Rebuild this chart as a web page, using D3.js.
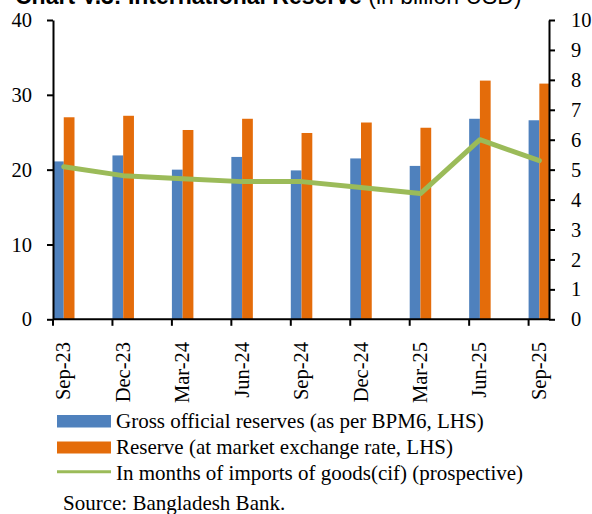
<!DOCTYPE html>
<html>
<head>
<meta charset="utf-8">
<script src="https://cdn.jsdelivr.net/npm/d3@7"></script>
<style>
  html, body { margin: 0; padding: 0; background: #fff; }
  svg { display: block; }
</style>
</head>
<body>
<svg id="chart" width="592" height="514"></svg>
<script>
// Quarter-end categories
const quarters = ["Sep-23", "Dec-23", "Mar-24", "Jun-24", "Sep-24", "Dec-24", "Mar-25", "Jun-25", "Sep-25"];
// Gross official reserves, BPM6 (billion USD, LHS)
const grossReserves = [21.1, 21.9, 20.0, 21.7, 19.9, 21.5, 20.5, 26.8, 26.6];
// Reserve at market exchange rate (billion USD, LHS)
const marketReserves = [27.0, 27.2, 25.3, 26.8, 24.9, 26.3, 25.6, 31.9, 31.5];
// Import cover in months (RHS)
const importMonths = [5.1, 4.8, 4.7, 4.6, 4.6, 4.4, 4.2, 6.0, 5.3];
// Axis ticks
const leftTicks = [0, 10, 20, 30, 40];
const rightTicks = [0, 1, 2, 3, 4, 5, 6, 7, 8, 9, 10];
const seriesNames = [
  "Gross official reserves (as per BPM6, LHS)",
  "Reserve (at market exchange rate, LHS)",
  "In months of imports of goods(cif) (prospective)"
];
const colors = ["#4F81BD", "#E46C0A", "#9BBB59"];

const svg = d3.select("#chart");
const serif = '"Liberation Serif", "Times New Roman", serif';
const sans = '"Liberation Sans", Arial, sans-serif';
const tickFont = 20.5, legendFont = 21;

const plotLeft = 53, plotRight = 549, plotTop = 20, plotBottom = 319.3;
const step = 59.45;

const x = d3.scaleBand().domain(quarters).range([plotLeft, plotLeft + step * quarters.length]).paddingInner(0).paddingOuter(0);
const sub = d3.scaleBand().domain([0, 1]).range([0, 21.5]).padding(0);
const yL = d3.scaleLinear().domain([0, 40]).range([plotBottom, plotTop]);
const yR = d3.scaleLinear().domain([0, 10]).range([plotBottom, plotTop]);

// Title (runs off the top edge)
const title = svg.append("text").attr("x", 15).attr("y", 4)
  .attr("font-family", sans).attr("font-size", 23).attr("fill", "#000");
title.append("tspan").attr("font-weight", "bold").text("Chart V.3: International Reserve ");
title.append("tspan").text("(in billion USD)");

// Bars
const barGroups = svg.append("g").selectAll("g").data(quarters).join("g");
barGroups.append("rect")
  .attr("x", d => x(d) + sub(0))
  .attr("width", sub.bandwidth())
  .attr("y", (d, i) => yL(grossReserves[i]))
  .attr("height", (d, i) => yL(0) - yL(grossReserves[i]))
  .attr("fill", colors[0]);
barGroups.append("rect")
  .attr("x", d => x(d) + sub(1))
  .attr("width", sub.bandwidth())
  .attr("y", (d, i) => yL(marketReserves[i]))
  .attr("height", (d, i) => yL(0) - yL(marketReserves[i]))
  .attr("fill", colors[1]);

// Import-cover line
const line = d3.line()
  .x((d, i) => x(quarters[i]) + sub(1))
  .y(d => yR(d));
svg.append("path").datum(importMonths)
  .attr("d", line)
  .attr("fill", "none")
  .attr("stroke", colors[2])
  .attr("stroke-width", 5)
  .attr("stroke-linejoin", "round")
  .attr("stroke-linecap", "round");

// Left axis
const leftAxis = svg.append("g").attr("transform", `translate(${plotLeft},0)`)
  .call(d3.axisLeft(yL).tickValues(leftTicks).tickSize(6).tickPadding(15).tickSizeOuter(0));
// Right axis
const rightAxis = svg.append("g").attr("transform", `translate(${plotRight},0)`)
  .call(d3.axisRight(yR).tickValues(rightTicks).tickSize(6).tickPadding(16).tickSizeOuter(0));

// Category axis line
svg.append("line")
  .attr("x1", plotLeft).attr("x2", plotRight)
  .attr("y1", plotBottom).attr("y2", plotBottom)
  .attr("stroke", "#000").attr("stroke-width", 2);
// Category boundary ticks
svg.append("g").selectAll("line").data(quarters).join("line")
  .attr("x1", d => x(d)).attr("x2", d => x(d))
  .attr("y1", plotBottom).attr("y2", plotBottom + 6.5)
  .attr("stroke", "#000").attr("stroke-width", 2);
// Rotated category labels
svg.append("g").selectAll("text").data(quarters).join("text")
  .attr("transform", d => `translate(${x(d) + sub(1) + 6.5},342) rotate(-90)`)
  .attr("text-anchor", "end")
  .attr("font-family", serif).attr("font-size", tickFont)
  .text(d => d);

[leftAxis, rightAxis].forEach(g => {
  g.selectAll(".domain").attr("stroke", "#000").attr("stroke-width", 2);
  g.selectAll(".tick line").attr("stroke", "#000").attr("stroke-width", 2);
  g.selectAll(".tick text").attr("font-family", serif).attr("font-size", tickFont).attr("fill", "#000");
});

// Legend
const legend = svg.append("g");
const lgX = 57, lgW = 54, textX = 116;
legend.append("rect").attr("x", lgX).attr("y", 415).attr("width", lgW).attr("height", 12.5).attr("fill", colors[0]);
legend.append("rect").attr("x", lgX).attr("y", 441.5).attr("width", lgW).attr("height", 12).attr("fill", colors[1]);
legend.append("line").attr("x1", lgX).attr("x2", lgX + lgW).attr("y1", 471.7).attr("y2", 471.7)
  .attr("stroke", colors[2]).attr("stroke-width", 3);
const legendBaselines = [428, 454, 480];
seriesNames.forEach((name, i) => {
  legend.append("text").attr("x", textX).attr("y", legendBaselines[i])
    .attr("font-family", serif).attr("font-size", legendFont).attr("fill", "#000").text(name);
});

// Source note
svg.append("text").attr("x", 63).attr("y", 510)
  .attr("font-family", serif).attr("font-size", legendFont).attr("fill", "#000")
  .text("Source: Bangladesh Bank.");
</script>
</body>
</html>
